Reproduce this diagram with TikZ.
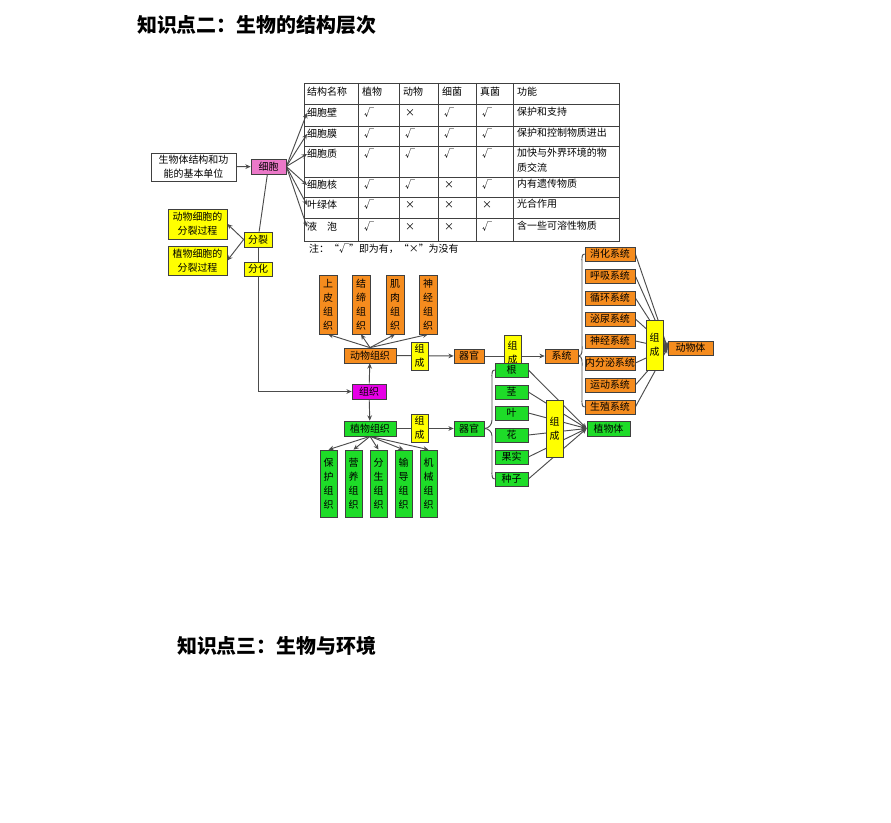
\documentclass[tikz,border=0pt]{standalone}
\usepackage{fontspec}
\setmainfont{Noto Sans CJK SC}
\usetikzlibrary{arrows.meta,backgrounds}
\definecolor{orgbox}{RGB}{245,140,30}
\definecolor{grnbox}{RGB}{30,220,40}
\definecolor{ylwbox}{RGB}{255,255,0}
\definecolor{pinkbox}{RGB}{235,120,200}
\definecolor{magbox}{RGB}{230,0,230}
\newcommand{\bx}[7]{\node[box,fill=#6,minimum width={0.03cm*((#4)-(#2))},minimum height={0.03cm*((#5)-(#3))}] (#1) at ({((#2)+(#4))/2},{((#3)+(#5))/2}) {#7};}
\newcommand{\trow}[6]{%
  \node[cell] at (364,#1) {#2};
  \node[cell] at (405,#1) {#3};
  \node[cell] at (444,#1) {#4};
  \node[cell] at (482,#1) {#5};
  \node[cell, anchor=north west] at (517,#1-6) {#6};}

\begin{document}
\begin{tikzpicture}[
  x=0.03cm, y=-0.03cm,
  font=\fontsize{8.5}{12}\selectfont,
  box/.style={draw=black!75, semithick, inner sep=0pt, align=center},
  arrow/.style={-{Stealth[length=4.5pt,width=4pt]}, black!70, thick},
  link/.style={black!70, thick},
  cell/.style={anchor=west, inner sep=0pt, align=left, font=\fontsize{8.5}{12.5}\selectfont}
]
\useasboundingbox (0,0) rectangle (891,823);

% titles
\node[anchor=west, font=\bfseries\fontsize{17}{19}\selectfont] (title2) at (133,25) {知识点二：生物的结构层次};
\node[anchor=west, font=\bfseries\fontsize{17}{19}\selectfont] (title3) at (173,646) {知识点三：生物与环境};

% table
\draw[black!75] (304,83) rectangle (619,241);
\foreach \yy in {104,126,146,177,197,218} \draw[black!75] (304,\yy) -- (619,\yy);
\foreach \xx in {358,399,438,476,513} \draw[black!75] (\xx,83) -- (\xx,241);
\foreach \txt/\xx in {结构名称/307, 植物/362, 动物/403, 细菌/442, 真菌/480, 功能/517}
  \node[cell] at (\xx,92) {\txt};
\node[cell] (r1) at (307,113) {细胞壁};
\node[cell] (r2) at (307,134) {细胞膜};
\node[cell] (r3) at (307,154) {细胞质};
\node[cell] (r4) at (307,185) {细胞核};
\node[cell] (r5) at (307,205) {叶绿体};
\node[cell] (r6) at (307,227) {液\quad 泡};
\trow{113}{√}{×}{√}{√}{保护和支持}
\trow{134}{√}{√}{√}{√}{保护和控制物质进出}
\trow{154}{√}{√}{√}{√}{加快与外界环境的物\\质交流}
\trow{185}{√}{√}{×}{√}{内有遗传物质}
\trow{205}{√}{×}{×}{×}{光合作用}
\trow{227}{√}{×}{×}{√}{含一些可溶性物质}
\node[cell] (note) at (309,249) {注：“√”即为有，“×”为没有};

% cell level
\bx{unit}{151}{153}{236}{181}{white}{生物体结构和功\\能的基本单位}
\bx{cell}{251}{159}{286}{174}{pinkbox}{细胞}
\bx{animdiv}{168}{209}{227}{239}{ylwbox}{动物细胞的\\分裂过程}
\bx{plantdiv}{168}{246}{227}{275}{ylwbox}{植物细胞的\\分裂过程}
\bx{split}{244}{232}{272}{247}{ylwbox}{分裂}
\bx{diff}{244}{262}{272}{276}{ylwbox}{分化}
\bx{tissue}{352}{384}{386}{399}{magbox}{组织}

% animal side
\bx{animtis}{344}{348}{396}{363}{orgbox}{动物组织}
\foreach \nm/\xa/\txt in {t1/319/上\\皮\\组\\织, t2/352/结\\缔\\组\\织, t3/386/肌\\肉\\组\\织, t4/419/神\\经\\组\\织}
  {\bx{\nm}{\xa}{275}{\xa+18}{334}{orgbox}{\txt}}
\bx{aform1}{411}{342}{428}{370}{ylwbox}{组\\成}
\bx{aorgan}{454}{349}{484}{363}{orgbox}{器官}
\bx{aform2}{504}{335}{521}{370}{ylwbox}{组\\成}
\bx{system}{545}{349}{578}{363}{orgbox}{系统}
\foreach \nm/\yy/\txt in {s1/254/消化系统, s2/276/呼吸系统, s3/298/循环系统, s4/319/泌尿系统, s5/341/神经系统, s6/363/内分泌系统, s7/385/运动系统, s8/407/生殖系统}
  {\bx{\nm}{585}{\yy-7}{635}{\yy+7}{orgbox}{\txt}}
\bx{aform3}{646}{320}{663}{370}{ylwbox}{组\\成}
\bx{animal}{668}{341}{713}{355}{orgbox}{动物体}

% plant side
\bx{planttis}{344}{421}{396}{436}{grnbox}{植物组织}
\foreach \nm/\xa/\txt in {p1/320/保\\护\\组\\织, p2/345/营\\养\\组\\织, p3/370/分\\生\\组\\织, p4/395/输\\导\\组\\织, p5/420/机\\械\\组\\织}
  {\bx{\nm}{\xa}{450}{\xa+17}{517}{grnbox}{\txt}}
\bx{pform1}{411}{414}{428}{442}{ylwbox}{组\\成}
\bx{porgan}{454}{421}{484}{436}{grnbox}{器官}
\foreach \nm/\yy/\txt in {o1/370/根, o2/392/茎, o3/413/叶, o4/435/花, o5/457/果实, o6/479/种子}
  {\bx{\nm}{495}{\yy-7}{528}{\yy+7}{grnbox}{\txt}}
\bx{pform2}{546}{400}{563}{457}{ylwbox}{组\\成}
\bx{plant}{587}{421}{630}{436}{grnbox}{植物体}

\begin{pgfonlayer}{background}
  \draw[arrow] (unit) -- (cell);
  \foreach \nm in {r1,r2,r3,r4,r5,r6} \draw[arrow] (cell.east) -- (\nm.west);
  \draw[link] (cell) -- (split);
  \draw[link] (split) -- (diff);
  \draw[arrow] (diff.south) |- (tissue.west);
  \draw[arrow] (split.west) -- (animdiv.east);
  \draw[arrow] (split.west) -- (plantdiv.east);
  \draw[arrow] (tissue) -- (animtis);
  \draw[arrow] (tissue) -- (planttis);
  \foreach \nm in {t1,t2,t3,t4} \draw[arrow] (animtis.north) -- (\nm.south);
  \foreach \nm in {p1,p2,p3,p4,p5} \draw[arrow] (planttis.south) -- (\nm.north);
  \draw[arrow] (animtis) -- (aorgan);
  \draw[arrow] (aorgan) -- (system);
  \draw[link] (system.east) to[out=0,in=-90] (582,345) -- (582,262) to[out=90,in=180] (s1.west);
  \draw[link] (system.east) to[out=0,in=90] (582,367) -- (582,399) to[out=-90,in=180] (s8.west);
  \foreach \nm in {s1,s2,s3,s4,s5,s6,s7,s8} \draw[arrow] (\nm.east) -- (animal.west);
  \draw[arrow] (planttis) -- (porgan);
  \draw[link] (porgan.east) to[out=0,in=-90] (492,420) -- (492,378) to[out=90,in=180] (o1.west);
  \draw[link] (porgan.east) to[out=0,in=90] (492,436) -- (492,471) to[out=-90,in=180] (o6.west);
  \foreach \nm in {o1,o2,o3,o4,o5,o6} \draw[arrow] (\nm.east) -- (plant.west);
\end{pgfonlayer}
\end{tikzpicture}
\end{document}
